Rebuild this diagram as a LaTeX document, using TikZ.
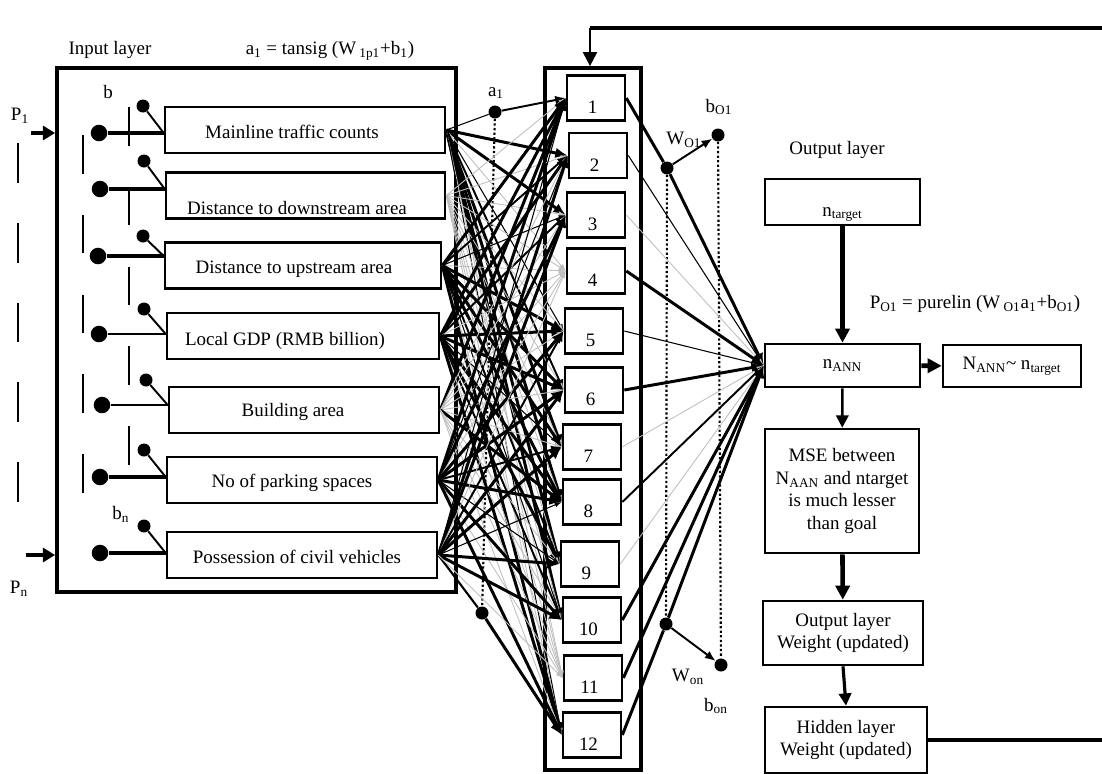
\documentclass[tikz,border=0pt]{standalone}
\usepackage{fontspec}
\setmainfont{Liberation Serif}
\usetikzlibrary{arrows.meta}

\begin{document}
\begin{tikzpicture}[x=0.02cm, y=-0.02cm,
every node/.append style={font=\fontsize{10.8pt}{13pt}\selectfont},
layer_style/.style={draw=black, line width=2.2pt, inner sep=0pt},
box_style/.style={draw=black, line width=1.5pt, inner sep=0pt, minimum height=0.92cm},
cell_style/.style={draw=black, line width=1.5pt, inner sep=0pt, minimum width=1.16cm, minimum height=0.9cm},
flow_style/.style={draw=black, line width=1.5pt, align=center, inner sep=2pt},
num_style/.style={inner sep=1pt, anchor=south},
dot_style/.style={circle, fill=black, inner sep=0pt, minimum size=9.4pt},
bias_style/.style={circle, fill=black, inner sep=0pt, minimum size=7.4pt},
dot_line/.style={line width=1.2pt, dash pattern=on 1.3pt off 1.3pt},
flow_arrow/.style={line width=2.6pt, -{Triangle[length=8pt,width=8pt]}},
wt0/.style={line width=1.7pt, -{Latex[length=7pt,width=6pt]}},
wt1/.style={wt0}, wt2/.style={wt0}, wt3/.style={wt0},
wt4/.style={line width=1.1pt, -{Latex[length=6pt,width=5pt]}},
wt5/.style={line width=0.6pt, -{Latex[length=4pt,width=3pt]}},
wt6/.style={line width=0.5pt, draw=black!25, -{Latex[length=4pt,width=3pt]}}]
\useasboundingbox (0,0) rectangle (1102,774);

% layers
\node[layer_style, minimum width=7.98cm, minimum height=10.48cm] (inlayer) at (256.5,330) {};
\node[layer_style, minimum width=1.92cm, minimum height=14.04cm] (hidlayer) at (593,419) {};
\node (lbl_in) at (110,50) {Input layer};
\node (lbl_a) at (330,51) {a\textsubscript{1} = tansig (W\,\textsubscript{1p1}+b\textsubscript{1})};

% input boxes
\foreach \x/\y/\w/\tx/\ty/\txt [count=\i] in {
  305/130/5.6/292/132/Mainline traffic counts,
  305.5/195.5/5.58/297/208/Distance to downstream area,
  303/265.5/5.52/294/269/Distance to upstream area,
  303/336/5.44/285/341/Local GDP (RMB billion),
  304/410/5.4/293/412/Building area,
  302/480/5.4/292/483/No of parking spaces,
  302/555/5.4/297/557/Possession of civil vehicles} {
  \node[box_style, minimum width=\w cm] (in\i) at (\x,\y) {};
  \node (t\i) at (\tx,\ty) {\txt};
}

% input neurons and bias
\foreach \cx/\cy/\bx/\by/\lw [count=\i] in {99/133/143/106/2.2pt, 100/189/144/161/2.2pt,
  98/256/143/236/2.2pt, 99/334/144/309/1.1pt, 102/405/146/380/1.1pt,
  100/477/144/450/2.2pt, 100/553/144/526/2.2pt} {
  \node[dot_style] (p\i) at (\cx,\cy) {};
  \node[bias_style] (q\i) at (\bx,\by) {};
  \draw[line width=\lw] (p\i) -- (p\i -| in\i.west);
  \draw[line width=1.1pt] (q\i) -- (p\i -| in\i.west);
}
\draw[line width=1.1pt, dash pattern=on 22.7pt off 22.7pt] (18,143) -- (18,503);
\draw[line width=1.1pt, dash pattern=on 22pt off 23.4pt] (83,135) -- (83,494);
\draw[line width=1.1pt, dash pattern=on 22pt off 23.4pt] (129,107) -- (129,467);
\node (lbl_b) at (108,92) {b};
\node (lbl_bn) at (121,514) {b\textsubscript{n}};

\coordinate (pin1) at (31,133);
\coordinate (pinn) at (26,555);
\draw[line width=2.4pt, -{Triangle[length=7pt,width=8pt]}] (pin1) -- (pin1 -| inlayer.west);
\draw[line width=2.4pt, -{Triangle[length=7pt,width=8pt]}] (pinn) -- (pinn -| inlayer.west);
\node (lbl_p1) at (20,116) {P\textsubscript{1}};
\node (lbl_pn) at (19,589) {P\textsubscript{n}};

% hidden neurons
\foreach \x/\y [count=\j] in {596/98, 598/155.5, 596/215, 596/271, 594/331, 594/390,
  592/447, 592/502, 590/564, 592/620, 593/678, 592/735} {
  \node[cell_style] (h\j) at (\x,\y) {};
  \node[num_style] (n\j) at ([xshift=-2pt,yshift=3.5pt]h\j.south) {\j};
}

% input -> hidden weights
\node[bias_style] (a1) at (495,112) {};
\node[bias_style] (an) at (482,613) {};
\node (lbl_a1) at (496,93) {a\textsubscript{1}};
\draw[dot_line] (a1) -- (an);
\draw[line width=0.6pt] (in1.east) -- (a1);
\draw[wt4] (a1) -- (h1.west);
\draw[line width=1.2pt] (in7.east) -- (an);
\draw[wt0] (an) -- (h12.west);
\foreach \i in {1,...,7} {
  \foreach \j in {1,...,12} {
    \pgfmathtruncatemacro{\k}{mod(3*\i+5*\j+\i*\j,7)}
    \ifnum\i=5 \pgfmathtruncatemacro{\k}{(\j==1||\j==8)?0:6}\fi
    \ifnum\i\j=11 \else \ifnum\i\j=712 \else
      \draw[wt\k] (in\i.east) -- (h\j.west);
    \fi\fi
  }
}

% output side
\node (lbl_out) at (837,150) {Output layer};
\node[flow_style, minimum width=3.1cm, minimum height=0.92cm, text height=16pt, text depth=0pt] (target) at (842.5,202) {n\textsubscript{target}};
\node[flow_style, minimum width=3.1cm, minimum height=0.86cm] (ann) at (842.5,365.5) {n\textsubscript{ANN}};
\node[flow_style, minimum width=2.76cm, minimum height=0.84cm] (approx) at (1012,366) {N\textsubscript{ANN}\textasciitilde{} n\textsubscript{target}};
\node (lbl_p) at (975,304) {P\textsubscript{O1} = purelin (W\,\textsubscript{O1}a\textsubscript{1}+b\textsubscript{O1})};
\node[flow_style, minimum width=3.08cm, minimum height=2.48cm] (mse) at (842,491) {MSE between\\N\textsubscript{AAN} and ntarget\\is much lesser\\than goal};
\node[flow_style, minimum width=3.2cm, minimum height=1.28cm] (outw) at (843,633) {Output layer\\Weight (updated)};
\node[flow_style, minimum width=3.24cm, minimum height=1.32cm] (hidw) at (846,740) {Hidden layer\\Weight (updated)};

\draw[flow_arrow] (target) -- (ann);
\draw[flow_arrow] (ann) -- (approx);
\draw[line width=1.5pt, -{Triangle[length=7pt,width=7pt]}] (ann) -- (mse);
\draw[flow_arrow] (mse) -- (outw);
\draw[line width=1.8pt, -{Triangle[length=7pt,width=7pt]}] (outw.south) -- (hidw.north);

% hidden -> output weights
\node[bias_style] (wo1) at (667,168) {};
\node[bias_style] (bo1) at (718,135) {};
\node[bias_style] (won) at (666,624) {};
\node[bias_style] (bon) at (721,665) {};
\node (lbl_wo1) at (684,140) {W\textsubscript{O1}};
\node (lbl_bo1) at (719,107) {b\textsubscript{O1}};
\node (lbl_won) at (688,677) {W\textsubscript{on}};
\node (lbl_bon) at (716,706) {b\textsubscript{on}};
\draw[dot_line] (wo1) -- (won);
\draw[dot_line] (bo1) -- (bon);
\draw[line width=1.1pt, -{Latex[length=6pt,width=5pt]}] (wo1) -- (bo1);
\draw[line width=1.1pt, -{Latex[length=6pt,width=5pt]}] (won) -- (bon);
\draw[wt0] (h1.east) -- (wo1) -- (ann.west);
\draw[wt0] (h12.east) -- (won) -- (ann.west);
\foreach \k [count=\j from 2] in {5,6,0,5,0,6,4,6,0,0} {
  \draw[wt\k] (h\j.east) -- (ann.west);
}

% feedback to hidden layer
\coordinate (fb1) at (1110,740);
\coordinate (fb2) at (1110,28);
\coordinate (fb3) at (590,28);
\draw[line width=2.2pt] (hidw.east) -- (fb1) -- (fb2) -- (fb3);
\draw[line width=1.2pt, -{Triangle[length=8pt,width=8pt]}] (fb3) -- (fb3 |- hidlayer.north);
\end{tikzpicture}
\end{document}
